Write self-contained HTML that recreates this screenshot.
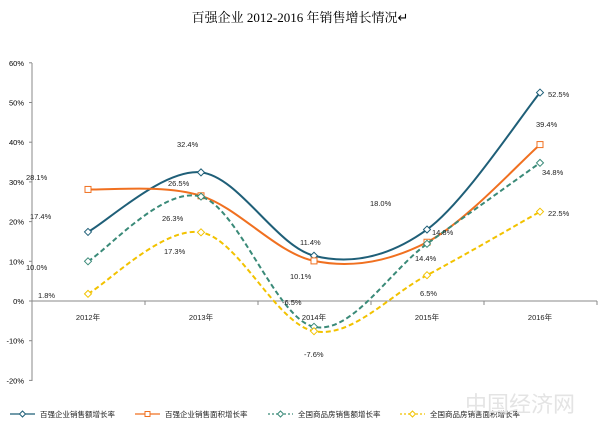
<!DOCTYPE html><html><head><meta charset="utf-8"><style>
body{margin:0;background:#fff}
svg{display:block;font-family:"Liberation Sans","Noto Sans CJK SC",sans-serif}
</style></head><body>
<svg id="s" width="600" height="445" xmlns="http://www.w3.org/2000/svg">
<text x="300" y="22" text-anchor="middle" font-family="Liberation Serif,Noto Serif CJK SC,serif" font-size="13" fill="#000">百强企业 2012-2016 年销售增长情况↵</text>
<g font-size="7.5" fill="#000" text-anchor="end" id="yl"></g>
<line x1="32" y1="63" x2="32" y2="381" stroke="#888"/>
<line x1="32" y1="301" x2="597" y2="301" stroke="#888"/>
<g id="g"></g>
<g font-size="7.5" fill="#222">
<text x="88" y="320" text-anchor="middle">2012年</text>
<text x="201" y="320" text-anchor="middle">2013年</text>
<text x="314" y="320" text-anchor="middle">2014年</text>
<text x="427" y="320" text-anchor="middle">2015年</text>
<text x="540" y="320" text-anchor="middle">2016年</text>
<text x="26" y="180">28.1%</text><text x="30" y="219">17.4%</text><text x="26" y="270">10.0%</text><text x="38" y="298">1.8%</text>
<text x="177" y="147">32.4%</text><text x="168" y="186">26.5%</text><text x="162" y="221">26.3%</text><text x="164" y="254">17.3%</text>
<text x="300" y="245">11.4%</text><text x="290" y="279">10.1%</text><text x="282" y="305">-6.5%</text><text x="304" y="357">-7.6%</text>
<text x="370" y="206">18.0%</text><text x="432" y="235">14.8%</text><text x="415" y="261">14.4%</text><text x="420" y="296">6.5%</text>
<text x="548" y="97">52.5%</text><text x="536" y="127">39.4%</text><text x="542" y="175">34.8%</text><text x="548" y="216">22.5%</text>
</g>
<g font-size="7.5" fill="#222" id="lg"></g>
<text x="575" y="412" text-anchor="end" font-size="22" fill="#e4e4e4" font-family="Noto Sans CJK SC,sans-serif">中国经济网</text>
</svg>
<script>
var NS="http://www.w3.org/2000/svg";
function el(t,a,p){var e=document.createElementNS(NS,t);for(var k in a)e.setAttribute(k,a[k]);(p||document.getElementById('g')).appendChild(e);return e;}
var yl=document.getElementById('yl');
for(var v=-20;v<=60;v+=10){var y=301-3.97*v;var t=el('text',{x:24,y:y+3},yl);t.textContent=v+'%';el('line',{x1:29,y1:y,x2:32,y2:y,stroke:'#888'});}
[145,258,371,484,597].forEach(function(x){el('line',{x1:x,y1:301,x2:x,y2:305,stroke:'#888'});});
var X=[88,201,314,427,540];
var S=[
{d:[17.4,32.4,11.4,18.0,52.5],c:'#1f5f78',dash:'',m:'d'},
{d:[28.1,26.5,10.1,14.8,39.4],c:'#f07020',dash:'',m:'s'},
{d:[10.0,26.3,-6.5,14.4,34.8],c:'#3a8a78',dash:'5,3',m:'d'},
{d:[1.8,17.3,-7.6,6.5,22.5],c:'#f2c200',dash:'5,3',m:'d'}];
S.forEach(function(s){
 var P=s.d.map(function(v,i){return [X[i],301-3.97*v];});
 var d='M'+P[0];
 for(var i=0;i<P.length-1;i++){
  var p0=P[i-1]||P[i],p1=P[i],p2=P[i+1],p3=P[i+2]||P[i+1],k=1/6;
  var c1=[p1[0]+(p2[0]-p0[0])*k,p1[1]+(p2[1]-p0[1])*k],c2=[p2[0]-(p3[0]-p1[0])*k,p2[1]-(p3[1]-p1[1])*k];
  d+=' C'+c1+' '+c2+' '+p2;}
 el('path',{d:d,fill:'none',stroke:s.c,'stroke-width':2,'stroke-dasharray':s.dash});
 P.forEach(function(p){
  if(s.m=='s')el('rect',{x:p[0]-3,y:p[1]-3,width:6,height:6,fill:'#fff',stroke:s.c});
  else el('path',{d:'M'+p[0]+','+(p[1]-3.5)+' l3.5,3.5 l-3.5,3.5 l-3.5,-3.5z',fill:'#fff',stroke:s.c});});
});
var lg=document.getElementById('lg');
var L=[[10,'百强企业销售额增长率'],[135,'百强企业销售面积增长率'],[268,'全国商品房销售额增长率'],[400,'全国商品房销售面积增长率']];
L.forEach(function(l,i){var s=S[i],y=414;
 el('line',{x1:l[0],y1:y,x2:l[0]+25,y2:y,stroke:s.c,'stroke-width':1.2,'stroke-dasharray':s.dash?'2,2':''},lg);
 if(s.m=='s')el('rect',{x:l[0]+10,y:y-2.5,width:5,height:5,fill:'#fff',stroke:s.c},lg);
 else el('path',{d:'M'+(l[0]+12.5)+','+(y-3)+' l3,3 l-3,3 l-3,-3z',fill:'#fff',stroke:s.c},lg);
 var t=el('text',{x:l[0]+30,y:y+3},lg);t.textContent=l[1];});
</script>
</body></html>
